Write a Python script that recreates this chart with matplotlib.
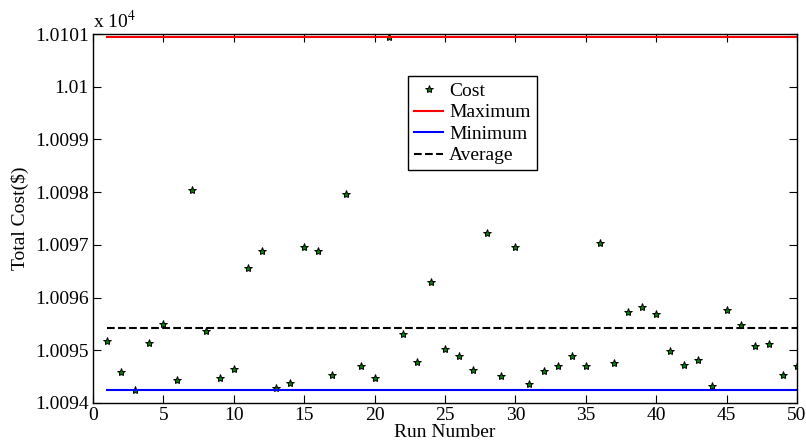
import numpy as np
import matplotlib.pyplot as plt

# --- Data (total cost in $ per run) ---
runs = np.arange(1, 51)
cost = [10095.18, 10094.59, 10094.25, 10095.13, 10095.50, 10094.44, 10098.04, 10095.37, 10094.47, 10094.64,
        10096.57, 10096.88, 10094.28, 10094.38, 10096.95, 10096.88, 10094.54, 10097.97, 10094.70, 10094.47,
        10100.945, 10095.30, 10094.78, 10096.30, 10095.02, 10094.89, 10094.63, 10097.22, 10094.51, 10096.96,
        10094.36, 10094.61, 10094.70, 10094.90, 10094.70, 10097.04, 10094.75, 10095.73, 10095.82, 10095.68,
        10094.98, 10094.72, 10094.82, 10094.32, 10095.77, 10095.47, 10095.08, 10095.11, 10094.53, 10094.70]
max_cost = 10100.945
min_cost = 10094.25
avg_cost = 10095.43

plt.rcParams['font.family'] = ['Liberation Serif', 'DejaVu Serif']
plt.rcParams['mathtext.fontset'] = 'stix'

fig = plt.figure(figsize=(8.06, 4.41), dpi=100)
ax = fig.add_axes([0.1154, 0.0862, 0.8734, 0.8367])

scale = 1e4
ax.plot(runs, np.array(cost) / scale, linestyle='none', marker='*', markersize=6,
        markerfacecolor='#007f00', markeredgecolor='black', markeredgewidth=0.7, label='Cost')
ax.plot([runs[0], runs[-1]], [max_cost / scale] * 2, color='red', lw=1.5, label='Maximum')
ax.plot([runs[0], runs[-1]], [min_cost / scale] * 2, color='blue', lw=1.5, label='Minimum')
ax.plot([runs[0], runs[-1]], [avg_cost / scale] * 2, color='black', lw=1.5, ls='--', label='Average')

ax.set_xlim(0, 50)
ax.set_ylim(1.0094, 1.0101)
ax.set_xticks(np.arange(0, 51, 5))
yt = [1.0094, 1.0095, 1.0096, 1.0097, 1.0098, 1.0099, 1.01, 1.0101]
ax.set_yticks(yt)
ax.set_yticklabels(['1.0094', '1.0095', '1.0096', '1.0097', '1.0098', '1.0099', '1.01', '1.0101'])
ax.tick_params(direction='in', top=True, right=True, length=6, labelsize=14, pad=3)
for s in ax.spines.values():
    s.set_linewidth(1.0)

ax.set_xlabel('Run Number', fontsize=14, labelpad=0)
ax.set_ylabel('Total Cost($)', fontsize=14, labelpad=4)
ax.text(0.0, 1.005, r'x 10$^{4}$', transform=ax.transAxes, fontsize=14, ha='left', va='bottom')

leg = ax.legend(loc='upper left', bbox_to_anchor=(0.448, 0.885), fontsize=14, frameon=True,
                fancybox=False, edgecolor='black', framealpha=1, borderpad=0.3,
                handlelength=1.5, handletextpad=0.3, labelspacing=0.2, borderaxespad=0)
leg.get_frame().set_linewidth(1.0)

plt.savefig('out.png', dpi=100)
